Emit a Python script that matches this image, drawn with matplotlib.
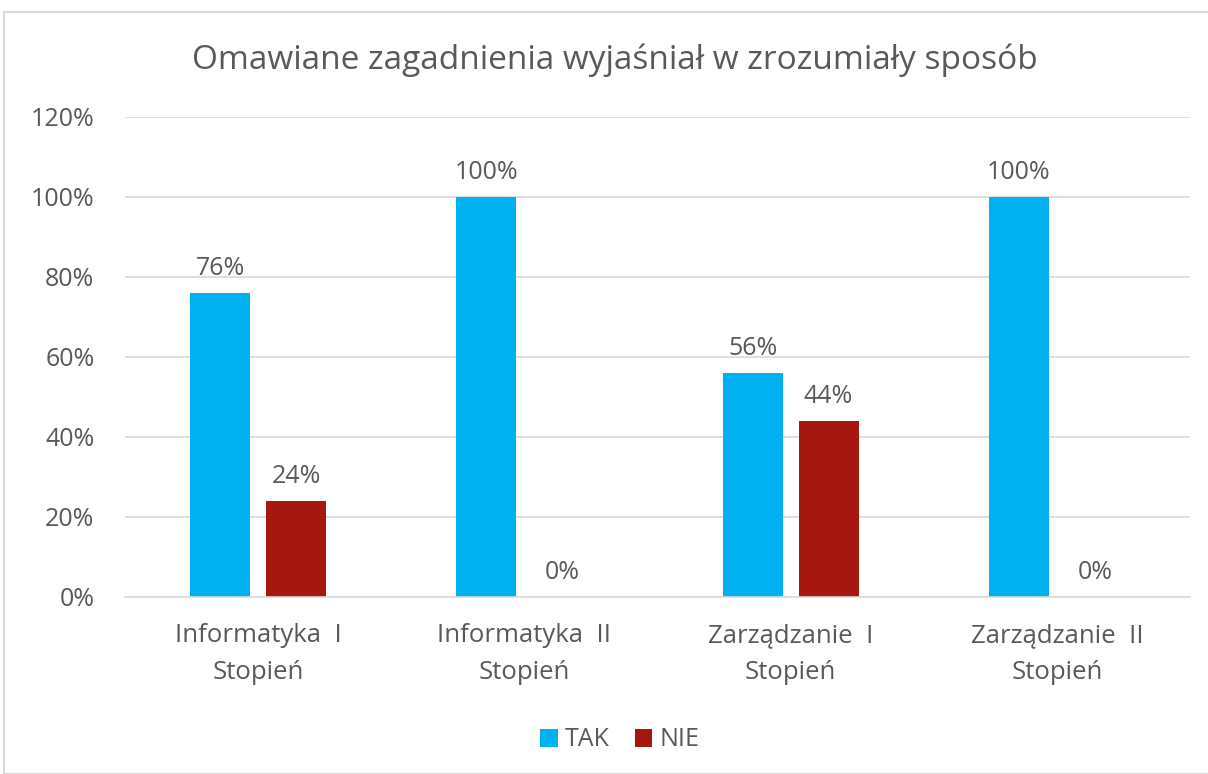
import matplotlib.pyplot as plt
import numpy as np
from matplotlib.patches import Rectangle
from matplotlib.ticker import FuncFormatter

plt.rcParams['font.family'] = ['Open Sans', 'DejaVu Sans']

categories = ["Informatyka  I\nStopień", "Informatyka  II\nStopień",
              "Zarządzanie  I\nStopień", "Zarządzanie  II\nStopień"]
tak = [76, 100, 56, 100]
nie = [24, 0, 44, 0]
yticks = [0, 20, 40, 60, 80, 100, 120]

txt = '#595959'
c_tak = '#00B0F0'
c_nie = '#A5180F'

fig = plt.figure(figsize=(12.08, 7.74), dpi=100)
# chart frame
fig.patches.append(Rectangle((4 / 1208, 0), 1.0, 1 - 12 / 774, transform=fig.transFigure,
                             fill=False, edgecolor='#D9D9D9', linewidth=1.5))
ax = fig.add_axes([125 / 1208, 1 - 597 / 774, (1190 - 125) / 1208, (597 - 117) / 774])

x = np.arange(len(categories))
w = 0.225
gap = 0.06
off = (w + gap) / 2
b1 = ax.bar(x - off, tak, w, color=c_tak, label='TAK')
b2 = ax.bar(x + off, nie, w, color=c_nie, label='NIE')
for bars, vals in ((b1, tak), (b2, nie)):
    for b, v in zip(bars, vals):
        ax.text(b.get_x() + b.get_width() / 2, v + 3, f"{v}%", ha='center', va='bottom',
                fontsize=18, color=txt)

ax.set_xlim(-0.5, len(categories) - 0.5)
ax.set_ylim(0, 120)
ax.set_yticks(yticks)
ax.yaxis.set_major_formatter(FuncFormatter(lambda v, p: f"{int(v)}%"))
ax.set_xticks(x)
ax.set_xticklabels(categories, fontsize=18.5, color=txt, linespacing=1.6)
ax.tick_params(axis='y', labelsize=18, labelcolor=txt, length=0, pad=22)
ax.tick_params(axis='x', length=0, pad=19)
ax.grid(axis='y', color='#D9D9D9', linewidth=1.2)
ax.set_axisbelow(True)
for s in ['top', 'right', 'left']:
    ax.spines[s].set_visible(False)
ax.spines['bottom'].set_color('#D9D9D9')
ax.spines['bottom'].set_linewidth(1.2)

fig.text(615 / 1208, 1 - 60 / 774, "Omawiane zagadnienia wyjaśniał w zrozumiały sposób",
         ha='center', va='center', fontsize=24, color=txt)

fig.legend(handles=[b1, b2], loc='center', bbox_to_anchor=(620 / 1208, 1 - 740 / 774), ncol=2,
           frameon=False, fontsize=18, labelcolor=txt, handlelength=0.7, handleheight=0.7,
           handletextpad=0.3, columnspacing=1.0)

plt.savefig('out.png', dpi=100)
